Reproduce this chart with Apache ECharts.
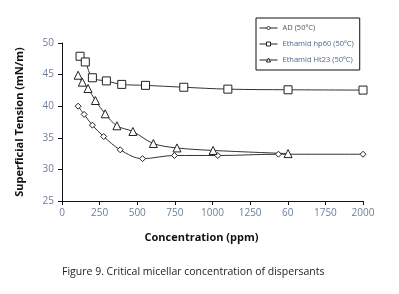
<!DOCTYPE html>
<html>
<head>
<meta charset="utf-8">
<script src="https://cdn.jsdelivr.net/npm/echarts@6/dist/echarts.min.js"></script>
<style>
  html, body { margin: 0; padding: 0; background: #fff; }
  #chart { width: 399px; height: 294px; }
</style>
</head>
<body>
<div id="chart"></div>
<script>
// concentration (ppm), surface tension (mN/m)
var adX = [107, 147, 202, 277, 387, 535, 747, 1035, 1438, 2000];
var adY = [40.0, 38.7, 37.0, 35.2, 33.1, 31.7, 32.2, 32.2, 32.4, 32.4];
var hp60X = [120, 155, 202, 295, 397, 555, 809, 1102, 1502, 2000];
var hp60Y = [47.9, 47.0, 44.5, 44.0, 43.45, 43.3, 43.0, 42.7, 42.6, 42.55];
var ht23X = [107, 135, 173, 222, 287, 365, 471, 607, 764, 1004, 1502];
var ht23Y = [44.9, 43.8, 42.8, 40.9, 38.8, 36.9, 36.0, 34.1, 33.4, 33.0, 32.5];
var seriesNames = ['AD (50ºC)', 'Ethamid hp60 (50ºC)', 'Ethamid Ht23 (50ºC)'];
var xTickValues = [0, 250, 500, 750, 1000, 1250, 1500, 1750, 2000];
var xTickLabels = ['0', '250', '500', '750', '1000', '1250', '60', '1750', '2000'];

function pairs(xs, ys) {
  return xs.map(function (x, i) { return [x, ys[i]]; });
}

var chart = echarts.init(document.getElementById('chart'));
var font = '"Open Sans", "DejaVu Sans", sans-serif';
var tickColor = '#6b7f99';

function mk(name, data, symbol, size) {
  return {
    name: name,
    type: 'line',
    data: data,
    smooth: 0.35,
    symbol: symbol,
    symbolSize: size,
    showSymbol: true,
    lineStyle: { color: '#333', width: 1 },
    itemStyle: { color: '#fff', borderColor: '#222', borderWidth: 1 },
    z: 3
  };
}

var option = {
  animation: false,
  textStyle: { fontFamily: font },
  grid: { left: 62, right: 36, top: 43, bottom: 93 },
  legend: {
    orient: 'vertical',
    left: 256,
    top: 18,
    width: 102,
    padding: [6, 6, 6, 3],
    itemGap: 8,
    itemWidth: 18,
    itemHeight: 5,
    borderColor: '#111',
    borderWidth: 1,
    lineStyle: { width: 1, color: '#222' },
    itemStyle: { borderWidth: 1, color: '#fff', borderColor: '#222' },
    textStyle: { fontSize: 7.5, color: '#4a6a8e', fontFamily: font },
    data: [
      { name: seriesNames[0], textStyle: { color: '#555' } },
      { name: seriesNames[1] },
      { name: seriesNames[2] }
    ]
  },
  xAxis: {
    type: 'value',
    min: 0,
    max: 2000,
    interval: 250,
    name: 'Concentration (ppm)',
    nameLocation: 'middle',
    nameGap: 31,
    nameTextStyle: { fontSize: 11, fontWeight: 'bold', color: '#111', padding: [0, 22, 0, 0] },
    axisLine: { lineStyle: { color: '#111', width: 1 } },
    axisTick: { show: true, length: 4, lineStyle: { color: '#111' } },
    axisLabel: {
      fontSize: 10, color: tickColor, margin: 7,
      formatter: function (v) {
        var i = xTickValues.indexOf(v);
        return i >= 0 ? xTickLabels[i] : '';
      }
    },
    splitLine: { show: false }
  },
  yAxis: {
    type: 'value',
    min: 25,
    max: 50,
    interval: 5,
    name: 'Superficial Tension (mN/m)',
    nameLocation: 'middle',
    nameGap: 37,
    nameTextStyle: { fontSize: 11, fontWeight: 'bold', color: '#111' },
    axisLine: { show: true, lineStyle: { color: '#111', width: 1 } },
    axisTick: { show: true, length: 4, lineStyle: { color: '#111' } },
    axisLabel: { fontSize: 10, color: tickColor, margin: 8 },
    splitLine: { show: false }
  },
  title: {
    text: 'Figure 9. Critical micellar concentration of dispersants',
    left: 57,
    top: 262,
    textStyle: { fontSize: 10.5, fontWeight: 'normal', color: '#222', fontFamily: font }
  },
  series: [
    mk(seriesNames[0], pairs(adX, adY), 'diamond', 6),
    mk(seriesNames[1], pairs(hp60X, hp60Y), 'rect', 8),
    mk(seriesNames[2], pairs(ht23X, ht23Y), 'triangle', 8)
  ]
};

chart.setOption(option);
window.addEventListener('resize', chart.resize);
</script>
</body>
</html>
